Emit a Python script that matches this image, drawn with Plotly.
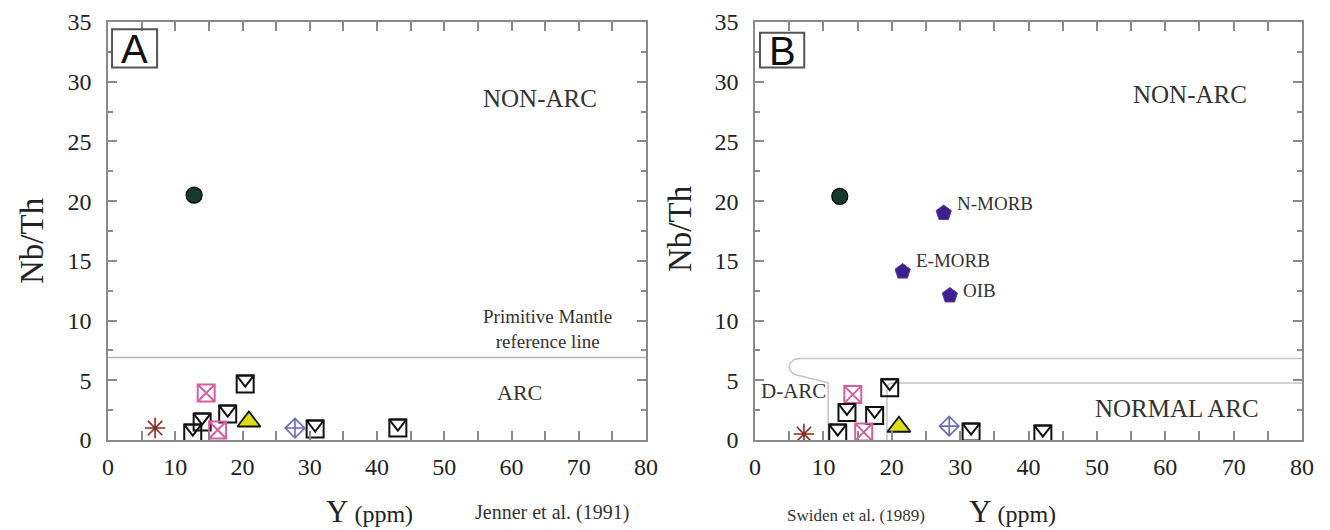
import plotly.graph_objects as go

# ---------------- Panel A data (Jenner et al. 1991) ----------------
a_box_x = [12.6, 14.0, 17.8, 20.4, 30.8, 43.1]
a_box_y = [0.58, 1.5, 2.17, 4.68, 0.92, 1.0]
a_pink_x = [14.6, 16.3]
a_pink_y = [3.93, 0.84]
a_tri_x = [20.95]
a_tri_y = [1.55]
a_dia_x = [27.8]
a_dia_y = [1.0]
a_ast_x = [7.0]
a_ast_y = [1.0]
a_cir_x = [12.8]
a_cir_y = [20.5]
pm_line_x = [0, 80]
pm_line_y = [6.9, 6.9]

# ---------------- Panel B data (Swinden et al. 1989) ----------------
b_box_x = [12.1, 13.45, 17.5, 19.7, 31.6, 42.1]
b_box_y = [0.58, 2.31, 2.06, 4.38, 0.66, 0.5]
b_pink_x = [14.3, 15.9]
b_pink_y = [3.8, 0.66]
b_tri_x = [21.05]
b_tri_y = [1.11]
b_dia_x = [28.4]
b_dia_y = [1.16]
b_ast_x = [7.16]
b_ast_y = [0.5]
b_cir_x = [12.4]
b_cir_y = [20.4]
ref_names = ["N-MORB", "E-MORB", "OIB"]
ref_x = [27.6, 21.6, 28.5]
ref_y = [19.0, 14.1, 12.1]
# field boundaries
darc_x = [80, 6.58, 5.78, 5.19, 4.98, 5.19, 5.78, 6.58, 10.7, 10.7]
darc_y = [6.83, 6.83, 6.74, 6.47, 6.11, 5.75, 5.48, 5.38, 4.79, 0]
narc_x = [80, 20.2, 19.6, 19.36, 19.3, 19.3]
narc_y = [4.77, 4.77, 4.7, 4.5, 4.25, 0]

x_ticks = [0, 10, 20, 30, 40, 50, 60, 70, 80]
y_ticks = [0, 5, 10, 15, 20, 25, 30, 35]

W, H = 1330, 530
OFF = 8  # page body margin


def PX(px):
    return (px - OFF) / W


def PY(py):
    return 1 - (py - OFF) / H


A_dom_x = [PX(108), PX(646)]
B_dom_x = [PX(755), PX(1302)]
A_dom_y = [PY(440), PY(22)]
B_dom_y = [PY(440), PY(22)]

SERIF = "Liberation Serif"
BOX_SIZE = 17
TRI_SIZE = BOX_SIZE / 1.155
shift_px = BOX_SIZE / 2 - TRI_SIZE / 4


def delta(dom):
    return shift_px * 35 / ((dom[1] - dom[0]) * H)


fig = go.Figure()


def add_markers(xa, ya, ya_shift, bx, by, px, py, tx, ty, dx, dy, sx, sy, cx, cy):
    fig.add_trace(go.Scatter(x=bx, y=by, xaxis=xa, yaxis=ya, mode="markers",
                             marker=dict(symbol="square-open", size=BOX_SIZE, color="#111",
                                         line=dict(width=2, color="#111"))))
    fig.add_trace(go.Scatter(x=bx, y=by, xaxis=xa, yaxis=ya_shift, mode="markers",
                             marker=dict(symbol="triangle-down-open", size=TRI_SIZE, color="#111",
                                         line=dict(width=2, color="#111"))))
    fig.add_trace(go.Scatter(x=px, y=py, xaxis=xa, yaxis=ya, mode="markers",
                             marker=dict(symbol="square-x-open", size=17, color="#d65fa0",
                                         line=dict(width=2, color="#d65fa0"))))
    fig.add_trace(go.Scatter(x=tx, y=ty, xaxis=xa, yaxis=ya, mode="markers",
                             marker=dict(symbol="triangle-up", size=20, color="#dede10",
                                         line=dict(width=1.8, color="#111"))))
    fig.add_trace(go.Scatter(x=dx, y=dy, xaxis=xa, yaxis=ya, mode="markers",
                             marker=dict(symbol="diamond-cross-open", size=15, color="#6b6bb8",
                                         line=dict(width=1.6, color="#6b6bb8"))))
    fig.add_trace(go.Scatter(x=sx, y=sy, xaxis=xa, yaxis=ya, mode="markers",
                             marker=dict(symbol="asterisk-open", size=17, color="#8a2b1e",
                                         line=dict(width=1.6, color="#8a2b1e"))))
    fig.add_trace(go.Scatter(x=cx, y=cy, xaxis=xa, yaxis=ya, mode="markers",
                             marker=dict(symbol="circle", size=16, color="#163a2e",
                                         line=dict(width=1.2, color="#000"))))


# Panel A
fig.add_trace(go.Scatter(x=pm_line_x, y=pm_line_y, xaxis="x", yaxis="y", mode="lines",
                         line=dict(color="#b4b4b4", width=1.5)))
add_markers("x", "y", "y3", a_box_x, a_box_y, a_pink_x, a_pink_y, a_tri_x, a_tri_y,
            a_dia_x, a_dia_y, a_ast_x, a_ast_y, a_cir_x, a_cir_y)

# Panel B
fig.add_trace(go.Scatter(x=darc_x, y=darc_y, xaxis="x2", yaxis="y2", mode="lines",
                         line=dict(color="#c4c4c4", width=1.5)))
fig.add_trace(go.Scatter(x=narc_x, y=narc_y, xaxis="x2", yaxis="y2", mode="lines",
                         line=dict(color="#c4c4c4", width=1.5)))
add_markers("x2", "y2", "y4", b_box_x, b_box_y, b_pink_x, b_pink_y, b_tri_x, b_tri_y,
            b_dia_x, b_dia_y, b_ast_x, b_ast_y, b_cir_x, b_cir_y)
fig.add_trace(go.Scatter(x=ref_x, y=ref_y, xaxis="x2", yaxis="y2", mode="markers",
                         marker=dict(symbol="pentagon", size=16, color="#3d1f8e",
                                     line=dict(width=1, color="#5a3aa8"))))

axis_common = dict(showline=True, linecolor="#8a8a8a", linewidth=1.5, mirror="allticks",
                   ticks="inside", tickcolor="#8a8a8a", tickwidth=1.5, ticklen=9,
                   showgrid=False, zeroline=False, automargin=False,
                   ticklabeloverflow="allow",
                   tickfont=dict(family=SERIF, size=24, color="#222"))

xax = dict(axis_common, range=[0, 80], tickvals=x_ticks, ticklabelstandoff=4,
           minor=dict(dtick=5, ticklen=5, tickcolor="#8a8a8a", tickwidth=1.5, ticks="inside"))
yax = dict(axis_common, range=[0, 35], tickvals=y_ticks, ticklabelstandoff=10,
           minor=dict(dtick=2.5, ticklen=5, tickcolor="#8a8a8a", tickwidth=1.5, ticks="inside"))

fig.update_layout(
    template="none",
    width=W, height=H, showlegend=False,
    paper_bgcolor="white", plot_bgcolor="white",
    margin=dict(l=0, r=0, t=0, b=0, autoexpand=False),
    xaxis=dict(xax, domain=A_dom_x, anchor="y"),
    yaxis=dict(yax, domain=A_dom_y, anchor="x"),
    xaxis2=dict(xax, domain=B_dom_x, anchor="y2"),
    yaxis2=dict(yax, domain=B_dom_y, anchor="x2"),
    yaxis3=dict(overlaying="y", anchor="x", visible=False, automargin=False,
                range=[-delta(A_dom_y), 35 - delta(A_dom_y)]),
    yaxis4=dict(overlaying="y2", anchor="x2", visible=False, automargin=False,
                range=[-delta(B_dom_y), 35 - delta(B_dom_y)]),
)

# panel letter boxes
fig.add_shape(type="rect", xref="x", yref="y", x0=0.6, x1=7.3, y0=31.2, y1=34.4,
              line=dict(color="#555", width=2))
fig.add_shape(type="rect", xref="x2", yref="y2", x0=0.73, x1=7.2, y0=31.2, y1=34.1,
              line=dict(color="#555", width=2))


def ann(text, x, y, xref, yref, size, family=SERIF, xanchor="center", yanchor="middle",
        angle=0, color="#333"):
    fig.add_annotation(text=text, x=x, y=y, xref=xref, yref=yref, showarrow=False,
                       xanchor=xanchor, yanchor=yanchor, textangle=angle,
                       font=dict(family=family, size=size, color=color))


ann("A", 3.9, 32.7, "x", "y", 40, family="Liberation Sans", color="#111")
ann("B", 3.95, 32.6, "x2", "y2", 40, family="Liberation Sans", color="#111")

ann("NON-ARC", 64.3, 28.6, "x", "y", 25)
ann("ARC", 61.2, 4.0, "x", "y", 22)
ann("Primitive Mantle<br>reference line", 55.5, 9.3, "x", "y", 19, xanchor="left")

ann("NON-ARC", 63.6, 28.9, "x2", "y2", 25)
ann("NORMAL ARC", 61.7, 2.64, "x2", "y2", 25)
ann("D-ARC", 0.6, 4.1, "x2", "y2", 21, xanchor="left")

label_offsets = {"N-MORB": (11, 10), "E-MORB": (11, 11), "OIB": (11, 5)}
for n, xv, yv in zip(ref_names, ref_x, ref_y):
    dx_, dy_ = label_offsets[n]
    fig.add_annotation(text=n, x=xv, y=yv, xref="x2", yref="y2", showarrow=False,
                       xanchor="left", yanchor="middle", xshift=dx_, yshift=dy_,
                       font=dict(family=SERIF, size=19, color="#333"))

# axis titles and sources
ann("Nb/Th", PX(32), PY(241), "paper", "paper", 33, angle=-90, color="#222")
ann("Nb/Th", PX(680), PY(229), "paper", "paper", 33, angle=-90, color="#222")
ann('<span style="font-size:31px">Y</span> (ppm)', PX(370), PY(511), "paper", "paper", 24, color="#222")
ann("Jenner et al. (1991)", PX(552), PY(512), "paper", "paper", 20, color="#333")
ann("Swiden et al. (1989)", PX(856), PY(515), "paper", "paper", 17, color="#333")
ann('<span style="font-size:31px">Y</span> (ppm)', PX(1012), PY(511), "paper", "paper", 24, color="#222")

fig.write_html("out.html")
